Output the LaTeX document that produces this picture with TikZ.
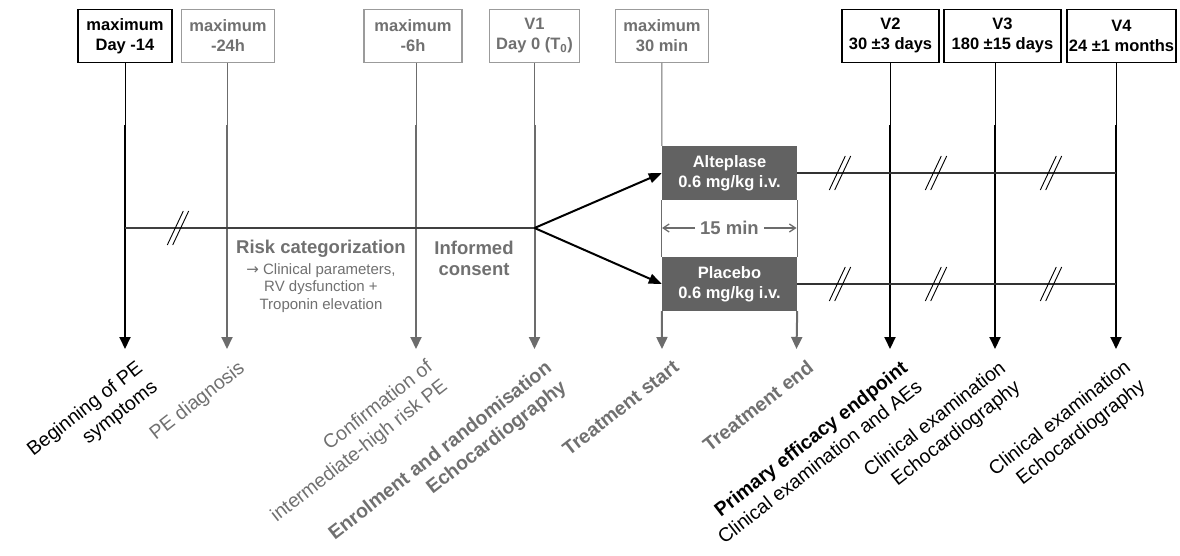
\documentclass[tikz,border=0pt]{standalone}
\usepackage{fontspec}
\setmainfont{Liberation Sans}
\newfontfamily\symfont{DejaVu Sans}
\usetikzlibrary{arrows.meta}
\usetikzlibrary{positioning}
\usetikzlibrary{math}

\definecolor{txtgray}{RGB}{112,112,112}
\definecolor{rimgray}{RGB}{155,155,155}
\definecolor{armgray}{RGB}{98,98,98}
\definecolor{rulegray}{RGB}{108,108,108}

\tikzset{
  timebox/.style={draw=black, line width=1.2pt, minimum height=53, inner sep=0pt,
    align=center, font=\bfseries\fontsize{16.5}{20}\selectfont},
  greybox/.style={timebox, draw=rimgray, text=txtgray},
  armbox/.style={fill=armgray, text=white, minimum width=135, minimum height=54,
    inner sep=0pt, align=center, font=\bfseries\fontsize{16.5}{20}\selectfont},
  thinrule/.style={line width=1pt},
  thickrule/.style={line width=2pt, -{Triangle[length=12pt,width=11pt]}},
  forkarrow/.style={line width=2pt, -{Triangle[length=13pt,width=10pt]}},
  durarrow/.style={line width=1.3pt, rulegray, -{Straight Barb[length=6pt,width=8pt]}},
  headline/.style={text=txtgray, align=center, font=\bfseries\fontsize{18.5}{21}\selectfont},
  notetext/.style={text=txtgray, align=center, font=\fontsize{15}{17.5}\selectfont},
  steplabel/.style={rotate=38, anchor=north east, align=right, inner sep=0pt,
    font=\fontsize{19.5}{24}\selectfont},
  boldlabel/.style={steplabel, text=txtgray, font=\bfseries\fontsize{19.5}{24}\selectfont},
  cutmark/.pic={\draw[line width=0.9pt] (-10.7,17) -- (5.3,-17) (-5.3,17) -- (10.7,-17);}
}

\begin{document}
\begin{tikzpicture}[x=1pt,y=-1pt]
  \tikzmath{
    \ytop = 35.8;
    \yknee = 125;
    \ytip = 349;
    \ymain = 228;
    \yalt = 173;
    \ypla = 284;
  }
  \useasboundingbox (0,0) rectangle (1180,556);

  % time points
  \node[timebox, minimum width=94] (onset) at (125,\ytop) {maximum\\Day -14};
  \node[greybox, minimum width=93] (diag) at (228,\ytop) {maximum\\-24h};
  \node[greybox, minimum width=98] (conf) at (413,\ytop) {maximum\\-6h};
  \node[greybox, minimum width=90] (visit1) at (534.5,\ytop) {V1\\Day 0 (T\textsubscript{0})};
  \node[greybox, minimum width=93] (start) at (662,\ytop) {maximum\\30 min};
  \node[timebox, minimum width=97] (v2) at (890.5,\ytop) {V2\\30 ±3 days};
  \node[timebox, minimum width=117] (v3) at (1002.5,\ytop) {V3\\180 ±15 days};
  \node[timebox, minimum width=109] (v4) at (1121.5,\ytop) {V4\\24 ±1 months};

  % treatment arms
  \node[armbox] (alt) at (729.5,\yalt) {Alteplase\\0.6 mg/kg i.v.};
  \node[armbox] (pla) at (729.5,\ypla) {Placebo\\0.6 mg/kg i.v.};

  % vertical rules
  \foreach \n/\x/\c in {onset/125/black, diag/227/rulegray, conf/416/rulegray,
      visit1/534.5/rulegray, v2/890/black, v3/995/black, v4/1116/black}{
    \coordinate (\n-k) at (\x,\yknee);
    \coordinate (\n-t) at (\x,\ytip);
    \draw[thinrule, \c] (\n.south -| \n-k) -- (\n-k);
    \draw[thickrule, \c] (\n-k) -- (\n-t);
  }
  \coordinate (start-t) at (662,\ytip);
  \coordinate (end-t) at (796.5,\ytip);
  \draw[thinrule, rulegray] (start) -- (alt.north west);
  \draw[thinrule, rulegray] (alt.south west) -- (pla.north west);
  \draw[thickrule, rulegray] (pla.south west) -- (start-t);
  \draw[thinrule, rulegray] (alt.south east) -- (pla.north east);
  \draw[thickrule, rulegray] (pla.south east) -- (end-t);

  % main line and randomisation
  \coordinate (m0) at (125,\ymain);
  \coordinate (fork) at (534.5,\ymain);
  \draw[line width=1.2pt, black!75] (m0) -- (fork);
  \pic at (178,\ymain) {cutmark};
  \draw[forkarrow] (fork) -- (alt.west);
  \draw[forkarrow] (fork) -- (pla.west);

  % follow-up lines
  \coordinate (alt-r) at (1116,\yalt);
  \coordinate (pla-r) at (1116,\ypla);
  \draw[line width=1.1pt, black!80] (alt.east) -- (alt-r);
  \draw[line width=1.1pt, black!80] (pla.east) -- (pla-r);
  \foreach \x in {840,936,1051}{
    \pic at (\x,\yalt) {cutmark};
    \pic at (\x,\ypla) {cutmark};
  }

  % infusion time
  \node[headline, inner xsep=5pt] (dur) at (729.5,\ymain) {15 min};
  \coordinate (dur-l) at (662,\ymain);
  \coordinate (dur-r) at (796.5,\ymain);
  \draw[durarrow] (dur) -- (dur-l);
  \draw[durarrow] (dur) -- (dur-r);

  % notes between rules
  \node[headline] (risk) at (321,249) {Risk categorization};
  \node[notetext] (riskdetail) at (321,288) {{\symfont →} Clinical parameters,\\RV dysfunction +\\Troponin elevation};
  \node[headline] (consent) at (474,258) {Informed\\consent};

  % events
  \node[steplabel, text=black] (l-onset) at (135,359) {Beginning of PE\\symptoms};
  \node[steplabel, text=txtgray] (l-diag) at (237,359) {PE diagnosis};
  \node[steplabel, text=txtgray] (l-conf) at (425,358) {Confirmation of\\intermediate-high risk PE};
  \node[boldlabel] (l-visit1) at (544,359) {Enrolment and randomisation\\Echocardiography};
  \node[boldlabel] (l-start) at (672,359) {Treatment start};
  \node[boldlabel] (l-end) at (806,359) {Treatment end};
  \node[steplabel, text=black] (l-v2) at (900,359) {{\bfseries Primary efficacy endpoint}\\Clinical examination and AEs};
  \node[steplabel, text=black] (l-v3) at (998,359) {Clinical examination\\Echocardiography};
  \node[steplabel, text=black] (l-v4) at (1123,358) {Clinical examination\\Echocardiography};
\end{tikzpicture}
\end{document}
